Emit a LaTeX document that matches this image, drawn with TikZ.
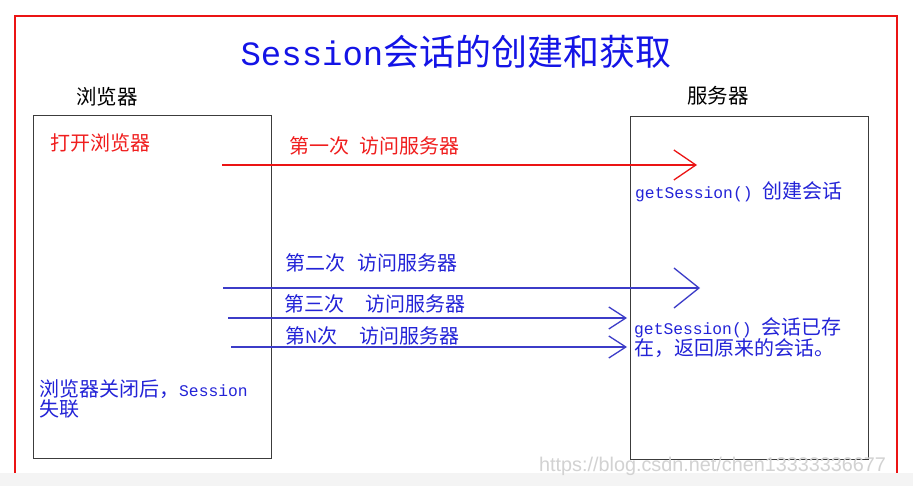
\documentclass[tikz,border=0pt]{standalone}
\usepackage{fontspec}
\setmainfont{Noto Sans CJK SC}
\newfontfamily\mono{Liberation Mono}
\newfontfamily\wmfont{Liberation Sans}
\usetikzlibrary{arrows.meta}
\definecolor{framered}{RGB}{235,20,20}
\definecolor{txtred}{RGB}{240,30,30}
\definecolor{txtblue}{RGB}{35,35,215}
\definecolor{titleblue}{RGB}{20,20,230}
\definecolor{lineblue}{RGB}{60,60,200}
\definecolor{boxgray}{RGB}{60,60,60}
\definecolor{bandgray}{RGB}{244,244,244}
\definecolor{wmgray}{RGB}{210,210,210}
\tikzset{
  panel/.style={draw=boxgray, line width=1.3pt, anchor=north west, inner sep=0pt},
  lbl/.style={anchor=west, inner sep=0pt, font=\fontsize{20}{20}\selectfont},
  msg/.style={line width=1.4pt},
}
\begin{document}
\begin{tikzpicture}[x=1pt,y=-1pt]
\useasboundingbox (0,0) rectangle (913,486);
\fill[white] (0,0) rectangle (913,486);
% red frame
\draw[framered, line width=2pt] (15,473) -- (15,16) -- (897,16) -- (897,473);
% title
\node[inner sep=0pt, text=titleblue, font=\fontsize{36}{36}\selectfont] (title) at (456,52)
  {{\mono\fontsize{34}{34}\selectfont Session}会话的创建和获取};
% headings
\node[inner sep=0pt, font=\fontsize{20.5}{20.5}\selectfont] (hb) at (107,97) {浏览器};
\node[inner sep=0pt, font=\fontsize{20.5}{20.5}\selectfont] (hs) at (718,96) {服务器};
% boxes
\node[panel, minimum width=238pt, minimum height=343pt] (browser) at (33,115) {};
\node[panel, minimum width=238pt, minimum height=343pt] (server) at (630,116) {};
% browser texts
\node[lbl, text=txtred] (open) at (50,143) {打开浏览器};
\node[lbl, text=txtblue, align=left, font=\fontsize{20}{18.5}\selectfont] (close) at (39,399)
  {浏览器关闭后，{\mono\fontsize{16.3}{16.3}\selectfont Session}\\失联};
% message labels
\node[lbl, text=txtred] (m1) at (289,146) {第一次\hspace{10pt}访问服务器};
\node[lbl, text=txtblue] (m2) at (285,263) {第二次\hspace{12pt}访问服务器};
\node[lbl, text=txtblue] (m3) at (284,304) {第三次\hspace{21pt}访问服务器};
\node[lbl, text=txtblue] (m4) at (285,336) {第{\fontsize{17}{17}\selectfont N}次\hspace{22pt}访问服务器};
% server texts
\node[lbl, text=txtblue] (s1) at (635,192) {{\mono\fontsize{16.3}{16.3}\selectfont getSession() }创建会话};
\node[lbl, text=txtblue, align=left, font=\fontsize{20}{19.5}\selectfont] (s2) at (634,338)
  {{\mono\fontsize{16.3}{16.3}\selectfont getSession() }会话已存\\在，返回原来的会话。};
% arrow end points
\coordinate (a1s) at (222,165); \coordinate (a1e) at (697,165);
\coordinate (a2s) at (223,288); \coordinate (a2e) at (700,288);
\coordinate (a3s) at (228,318); \coordinate (a3e) at (627,318);
\coordinate (a4s) at (231,347); \coordinate (a4e) at (627,347);
\draw[msg, framered, -{Straight Barb[length=22pt, width=30pt, line width=1.3pt]}] (a1s) -- (a1e);
\draw[msg, lineblue, -{Straight Barb[length=25pt, width=40pt, line width=1.3pt]}] (a2s) -- (a2e);
\draw[msg, lineblue, -{Straight Barb[length=17pt, width=22pt, line width=1.3pt]}] (a3s) -- (a3e);
\draw[msg, lineblue, -{Straight Barb[length=17pt, width=22pt, line width=1.3pt]}] (a4s) -- (a4e);
% bottom band and watermark
\fill[bandgray] (0,473) rectangle (913,486);
\node[anchor=west, inner sep=0pt, text=wmgray, font=\wmfont\fontsize{19.8}{19.8}\selectfont] (wm) at (539,466)
  {https://blog.csdn.net/chen13333336677};
\end{tikzpicture}
\end{document}
